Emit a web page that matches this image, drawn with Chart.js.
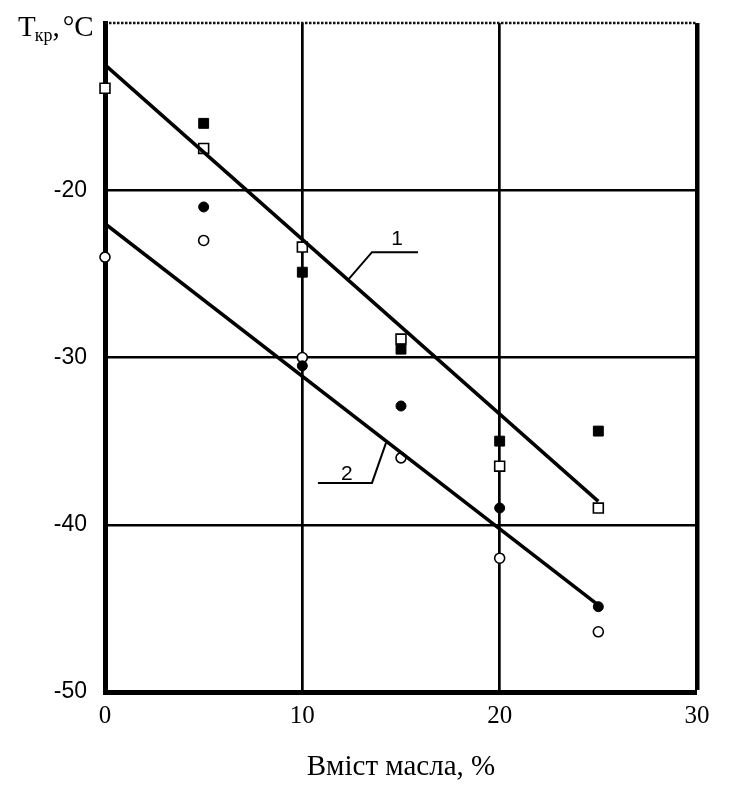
<!DOCTYPE html>
<html>
<head>
<meta charset="utf-8">
<script src="https://cdn.jsdelivr.net/npm/chart.js@4"></script>
<style>
  html, body { margin: 0; padding: 0; background: #fff; }
  #wrap { width: 733px; height: 797px; }
</style>
</head>
<body>
<div id="wrap"><canvas id="c" width="733" height="797"></canvas></div>
<script>
// ---- data ----
const oilContent = [0, 5, 10, 15, 20, 25];               // x, %
const filledSquares = [null, -16.0, -24.9, -29.5, -35.0, -34.4];
const openSquares   = [-13.9, -17.5, -23.4, -28.9, -36.5, -39.0];
const filledCircles = [null, -21.0, -30.5, -32.9, -39.0, -44.9];
const openCircles   = [-24.0, -23.0, -30.0, -36.0, -42.0, -46.4];

const fitX = [0, 25];
const fitLine1 = [-12.5, -38.6];
const fitLine2 = [-22.0, -44.8];

const leader1X = [12.36, 13.53, 15.86];
const leader1Y = [-25.3, -23.7, -23.7];
const leader2X = [14.24, 13.53, 10.79];
const leader2Y = [-35.1, -37.5, -37.5];
const curveLabels = ['1', '2'];
const curveLabelX = [14.8, 12.26];
const curveLabelY = [-22.9, -36.95];

const xTicks = [0, 10, 20, 30];
const yTicks = [-50, -40, -30, -20, -10];
const xTitle = 'Вміст масла, %';
const yTitleMain = 'T', yTitleSub = 'кр', yTitleComma = ',', yTitleUnit = '°C';

const pts = (xs, ys) => xs.map((x, i) => ({x, y: ys[i]})).filter(p => p.y !== null);

const labelsPlugin = {
  id: 'labelsPlugin',
  afterDraw(chart) {
    const ctx = chart.ctx;
    const xs = chart.scales.x, ys = chart.scales.y;
    ctx.save();
    ctx.fillStyle = '#000';
    ctx.textBaseline = 'middle';
    ctx.textAlign = 'center';
    ctx.font = '21px "Liberation Sans", Arial, sans-serif';
    curveLabels.forEach((t, i) => {
      ctx.fillText(t, xs.getPixelForValue(curveLabelX[i]), ys.getPixelForValue(curveLabelY[i]));
    });
    // y title
    ctx.textAlign = 'left';
    ctx.textBaseline = 'alphabetic';
    const big = '29px "Liberation Serif", "Times New Roman", serif';
    let x = 18;
    ctx.font = big;
    ctx.fillText(yTitleMain, x, 36);
    x += ctx.measureText(yTitleMain).width - 1;
    ctx.font = '18px "Liberation Serif", "Times New Roman", serif';
    ctx.fillText(yTitleSub, x, 41);
    x += ctx.measureText(yTitleSub).width;
    ctx.font = big;
    ctx.fillText(yTitleComma, x, 36);
    x += ctx.measureText(yTitleComma).width + 3;
    ctx.fillText(yTitleUnit, x, 36);
    ctx.restore();
  }
};

const topBorderPlugin = {
  id: 'topBorder',
  beforeDatasetsDraw(chart) {
    const {ctx, chartArea} = chart;
    ctx.save();
    ctx.strokeStyle = '#111';
    ctx.lineWidth = 2.5;
    ctx.setLineDash([2.5, 1.5]);
    ctx.beginPath();
    ctx.moveTo(chartArea.left, chartArea.top);
    ctx.lineTo(chartArea.right, chartArea.top);
    ctx.stroke();
    ctx.restore();
  }
};

new Chart(document.getElementById('c'), {
  type: 'scatter',
  data: {
    datasets: [
      { label: 'line1', type: 'line', data: pts(fitX, fitLine1), borderColor: '#000', borderWidth: 3.5, pointRadius: 0, fill: false },
      { label: 'line2', type: 'line', data: pts(fitX, fitLine2), borderColor: '#000', borderWidth: 3.5, pointRadius: 0, fill: false },
      { label: 'lead1', type: 'line', data: pts(leader1X, leader1Y), borderColor: '#000', borderWidth: 2, pointRadius: 0, fill: false },
      { label: 'lead2', type: 'line', data: pts(leader2X, leader2Y), borderColor: '#000', borderWidth: 2, pointRadius: 0, fill: false },
      { label: 'fs', data: pts(oilContent, filledSquares), pointStyle: 'rect', pointRadius: 7, backgroundColor: '#000', borderColor: '#000', borderWidth: 1, clip: false },
      { label: 'os', data: pts(oilContent, openSquares), pointStyle: 'rect', pointRadius: 7, backgroundColor: '#fff', borderColor: '#000', borderWidth: 1.6, clip: false },
      { label: 'fc', data: pts(oilContent, filledCircles), pointStyle: 'circle', pointRadius: 5, backgroundColor: '#000', borderColor: '#000', borderWidth: 1, clip: false },
      { label: 'oc', data: pts(oilContent, openCircles), pointStyle: 'circle', pointRadius: 5, backgroundColor: '#fff', borderColor: '#000', borderWidth: 1.6, clip: false }
    ]
  },
  options: {
    responsive: false,
    animation: false,
    events: [],
    layout: { padding: { top: 23, right: 36, left: 0, bottom: 0 } },
    plugins: { legend: { display: false }, tooltip: { enabled: false } },
    scales: {
      x: {
        type: 'linear', min: 0, max: 30,
        afterBuildTicks: s => { s.ticks = xTicks.map(v => ({value: v})); },
        afterFit: s => { s.height = 105; s.paddingLeft = 0; s.paddingRight = 0; },
        ticks: { color: '#000', padding: 9, maxRotation: 0, font: { family: '"Liberation Serif", "Times New Roman", serif', size: 25 } },
        grid: {
          drawTicks: false, color: '#000',
          lineWidth: c => (c.tick && c.tick.value === 0) ? 0 : (c.tick && c.tick.value === 30 ? 4.5 : 2.7)
        },
        border: { display: true, color: '#000', width: 5 },
        title: { display: true, text: xTitle, color: '#000', padding: { top: 0, bottom: 12 }, font: { family: '"Liberation Serif", "Times New Roman", serif', size: 29 } }
      },
      y: {
        type: 'linear', min: -50, max: -10,
        afterBuildTicks: s => { s.ticks = yTicks.map(v => ({value: v})); },
        afterFit: s => { s.width = 105; s.paddingTop = 0; s.paddingBottom = 0; },
        ticks: { color: '#000', padding: 18, callback: v => v === -10 ? '' : String(v), font: { family: '"Liberation Sans", Arial, sans-serif', size: 23 } },
        grid: {
          drawTicks: false, color: '#000',
          lineWidth: c => (c.tick && (c.tick.value === -50 || c.tick.value === -10)) ? 0 : 2.5
        },
        border: { display: true, color: '#000', width: 5 }
      }
    }
  },
  plugins: [topBorderPlugin, labelsPlugin]
});
</script>
</body>
</html>
